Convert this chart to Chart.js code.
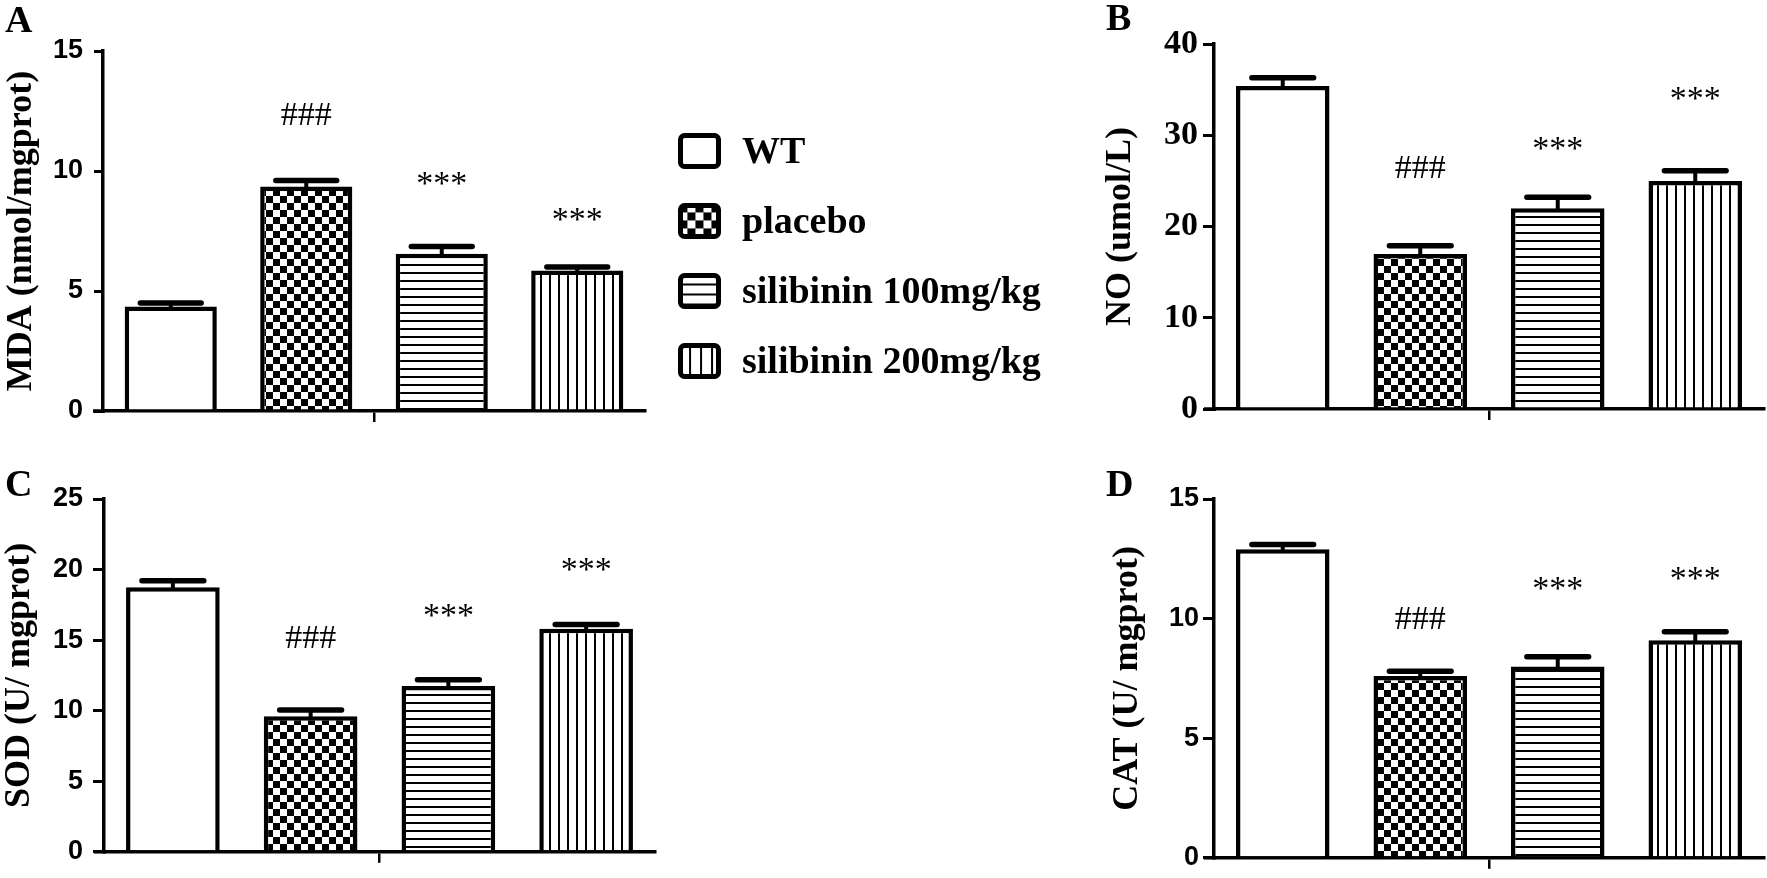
<!DOCTYPE html>
<html>
<head>
<meta charset="utf-8">
<title>Oxidative stress markers</title>
<script src="https://cdn.jsdelivr.net/npm/chart.js@4.4.1/dist/chart.umd.min.js"></script>
<style>
  html, body { margin: 0; padding: 0; background: #fff; }
  body { width: 1767px; height: 878px; position: relative; overflow: hidden; }
  canvas { position: absolute; display: block; }
</style>
</head>
<body>
<canvas id="chartA"></canvas>
<canvas id="chartB"></canvas>
<canvas id="chartC"></canvas>
<canvas id="chartD"></canvas>
<script>
// groups (one bar each) and significance marks
const groups = ['WT', 'placebo', 'silibinin 100mg/kg', 'silibinin 200mg/kg'];
const marks = ['', '###', '***', '***'];

// A - MDA
const mdaMean = [4.35, 9.35, 6.55, 5.85];
const mdaSem = [0.15, 0.25, 0.3, 0.15];
const mdaMarkAt = [null, 12.3, 9.4, 7.9];
const mdaTicks = [0, 5, 10, 15];

// B - NO
const noMean = [35.4, 17.0, 22.0, 25.0];
const noSem = [0.9, 0.9, 1.2, 1.1];
const noMarkAt = [null, 26.3, 28.4, 33.9];
const noTicks = [0, 10, 20, 30, 40];

// C - SOD
const sodMean = [18.75, 9.6, 11.75, 15.8];
const sodSem = [0.45, 0.45, 0.45, 0.3];
const sodMarkAt = [null, 15.1, 16.6, 19.9];
const sodTicks = [0, 5, 10, 15, 20, 25];

// D - CAT
const catMean = [12.9, 7.6, 8.0, 9.1];
const catSem = [0.2, 0.2, 0.4, 0.35];
const catMarkAt = [null, 9.95, 11.2, 11.6];
const catTicks = [0, 5, 10, 15];

const SANS = '"Liberation Sans", Arial, sans-serif';
const SERIF = '"Liberation Serif", "Times New Roman", serif';
const TITLE_SIZE = 36;

// fills: white, checkerboard, horizontal lines, vertical lines
function makeFill(kind, size) {
    if (kind === 'plain') return '#ffffff';
    const c = document.createElement('canvas');
    const g = c.getContext('2d');
    if (kind === 'checker') {
        c.width = c.height = size * 2;
        g.fillStyle = '#fff';
        g.fillRect(0, 0, c.width, c.height);
        g.fillStyle = '#000';
        g.fillRect(0, 0, size, size);
        g.fillRect(size, size, size, size);
    } else if (kind === 'hlines') {
        c.width = 4; c.height = size;
        g.fillStyle = '#fff';
        g.fillRect(0, 0, 4, size);
        g.fillStyle = '#000';
        g.fillRect(0, 0, 4, 2);
    } else {
        c.width = size; c.height = 4;
        g.fillStyle = '#fff';
        g.fillRect(0, 0, size, 4);
        g.fillStyle = '#000';
        g.fillRect(0, 0, 2, 4);
    }
    return g.createPattern(c, 'repeat');
}

const fillKinds = ['plain', 'checker', 'hlines', 'vlines'];
const barFills = [makeFill('plain'), makeFill('checker', 7), makeFill('hlines', 8), makeFill('vlines', 9)];
const legendSizes = [0, 8, 10, 11];

const panels = [
    {
        id: 'chartA', letter: 'A', title: 'MDA (nmol/mgprot)',
        mean: mdaMean, sem: mdaSem, markAt: mdaMarkAt, ticks: mdaTicks,
        canvas: { left: 0, top: 0, width: 1080, height: 440 },
        area: { left: 103, right: 645, top: 51, bottom: 411 },
        tickFont: { family: SANS, size: 27, weight: 'bold' }, tickLen: 9, tickPad: 11,
        titleCenter: 22, letterAt: [5, 32], legend: true
    },
    {
        id: 'chartB', letter: 'B', title: 'NO (umol/L)',
        mean: noMean, sem: noSem, markAt: noMarkAt, ticks: noTicks,
        canvas: { left: 1090, top: 0, width: 677, height: 440 },
        area: { left: 1214, right: 1764, top: 44, bottom: 409 },
        tickFont: { family: SERIF, size: 34, weight: 'bold' }, tickLen: 11, tickPad: 5,
        titleCenter: 1121, letterAt: [16, 30], legend: false
    },
    {
        id: 'chartC', letter: 'C', title: 'SOD (U/ mgprot)',
        mean: sodMean, sem: sodSem, markAt: sodMarkAt, ticks: sodTicks,
        canvas: { left: 0, top: 438, width: 680, height: 440 },
        area: { left: 104, right: 655, top: 499, bottom: 864 },
        tickFont: { family: SANS, size: 27, weight: 'bold' }, tickLen: 11, tickPad: 10,
        titleCenter: 20, letterAt: [5, 58], legend: false
    },
    {
        id: 'chartD', letter: 'D', title: 'CAT (U/ mgprot)',
        mean: catMean, sem: catSem, markAt: catMarkAt, ticks: catTicks,
        canvas: { left: 1090, top: 438, width: 677, height: 440 },
        area: { left: 1214, right: 1764, top: 499, bottom: 864 },
        tickFont: { family: SANS, size: 27, weight: 'bold' }, tickLen: 11, tickPad: 4,
        titleCenter: 1128, letterAt: [16, 58], legend: false
    }
];

const legendBox = { left: 678, firstTop: 133, step: 70, width: 43, height: 36, textLeft: 742 };

// error bars (SEM, upward only)
function errorBarPlugin(p) {
    return {
        id: 'errorBars',
        afterDatasetsDraw(chart) {
            const ctx = chart.ctx;
            const y = chart.scales.y;
            chart.data.datasets.forEach((ds, i) => {
                const bar = chart.getDatasetMeta(i).data[0];
                const top = y.getPixelForValue(ds.data[0]);
                const tip = y.getPixelForValue(ds.data[0] + p.sem[i]);
                const half = bar.width * 0.33;
                ctx.save();
                ctx.strokeStyle = '#000';
                ctx.lineCap = 'round';
                ctx.lineWidth = 4;
                ctx.beginPath();
                ctx.moveTo(bar.x, top);
                ctx.lineTo(bar.x, tip);
                ctx.stroke();
                ctx.lineWidth = 5.5;
                ctx.beginPath();
                ctx.moveTo(bar.x - half, tip);
                ctx.lineTo(bar.x + half, tip);
                ctx.stroke();
                ctx.restore();
            });
        }
    };
}

// ### / *** above the bars, axis stub, panel letter
function decorPlugin(p) {
    return {
        id: 'decor',
        afterDraw(chart) {
            const ctx = chart.ctx;
            const y = chart.scales.y;
            const area = chart.chartArea;
            ctx.save();
            ctx.fillStyle = '#000';
            ctx.textAlign = 'center';
            ctx.textBaseline = 'middle';
            ctx.font = '34px ' + SERIF;
            chart.data.datasets.forEach((ds, i) => {
                if (!marks[i] || p.markAt[i] == null) return;
                const bar = chart.getDatasetMeta(i).data[0];
                ctx.fillText(marks[i], bar.x, y.getPixelForValue(p.markAt[i]));
            });

            ctx.strokeStyle = '#000';
            ctx.lineWidth = 3.5;
            ctx.beginPath();
            ctx.moveTo(area.left - 10, area.bottom);
            ctx.lineTo(area.left + 2, area.bottom);
            ctx.stroke();

            ctx.textAlign = 'left';
            ctx.textBaseline = 'alphabetic';
            ctx.font = 'bold 38px ' + SERIF;
            ctx.fillText(p.letter, p.letterAt[0], p.letterAt[1]);
            ctx.restore();
        }
    };
}

// group legend, drawn beside panel A
function legendPlugin(p) {
    return {
        id: 'groupLegend',
        afterDraw(chart) {
            if (!p.legend) return;
            const ctx = chart.ctx;
            ctx.save();
            chart.data.datasets.forEach((ds, i) => {
                const x = legendBox.left - p.canvas.left;
                const top = legendBox.firstTop + legendBox.step * i - p.canvas.top;
                const fill = makeFill(fillKinds[i], legendSizes[i]);
                if (typeof fill !== 'string') {
                    fill.setTransform(new DOMMatrix().translate(x + 5 + legendSizes[i] * 0.55, top + 5 + legendSizes[i] * 0.55));
                }
                ctx.beginPath();
                ctx.roundRect(x + 2.5, top + 2.5, legendBox.width - 5, legendBox.height - 5, 4);
                ctx.fillStyle = fill;
                ctx.fill();
                ctx.lineWidth = 5;
                ctx.strokeStyle = '#000';
                ctx.stroke();

                ctx.fillStyle = '#000';
                ctx.font = 'bold 38px ' + SERIF;
                ctx.textAlign = 'left';
                ctx.textBaseline = 'middle';
                ctx.fillText(ds.label, legendBox.textLeft - p.canvas.left, top + legendBox.height / 2 + 2);
            });
            ctx.restore();
        }
    };
}

function buildPanel(p) {
    const canvas = document.getElementById(p.id);
    canvas.width = p.canvas.width;
    canvas.height = p.canvas.height;
    canvas.style.left = p.canvas.left + 'px';
    canvas.style.top = p.canvas.top + 'px';

    const yWidth = p.area.left - p.canvas.left;
    const xHeight = p.canvas.height - (p.area.bottom - p.canvas.top);

    return new Chart(canvas, {
        type: 'bar',
        data: {
            labels: [''],
            datasets: groups.map((g, i) => ({
                label: g,
                data: [p.mean[i]],
                backgroundColor: barFills[i],
                borderColor: '#000',
                borderWidth: 4.5,
                categoryPercentage: 1.0,
                barPercentage: 0.68
            }))
        },
        options: {
            responsive: false,
            animation: false,
            devicePixelRatio: 1,
            events: [],
            layout: {
                padding: {
                    left: 0,
                    top: p.area.top - p.canvas.top,
                    right: p.canvas.width - (p.area.right - p.canvas.left),
                    bottom: 0
                }
            },
            plugins: {
                legend: { display: false },
                tooltip: { enabled: false }
            },
            scales: {
                x: {
                    grid: {
                        display: true, drawOnChartArea: false, offset: false,
                        tickLength: 11, color: '#000', lineWidth: 2.5
                    },
                    border: { display: true, color: '#000', width: 3.5 },
                    ticks: { display: true },
                    afterFit: s => { s.height = xHeight; }
                },
                y: {
                    min: p.ticks[0],
                    max: p.ticks[p.ticks.length - 1],
                    afterBuildTicks: s => { s.ticks = p.ticks.map(v => ({ value: v })); },
                    ticks: { font: p.tickFont, color: '#000', padding: p.tickPad },
                    grid: {
                        drawOnChartArea: false, drawTicks: true,
                        tickLength: p.tickLen, color: '#000', lineWidth: 3
                    },
                    border: { display: true, color: '#000', width: 3.5 },
                    title: {
                        display: true,
                        text: p.title,
                        color: '#000',
                        font: { family: SERIF, size: TITLE_SIZE, weight: 'bold', lineHeight: 1 },
                        padding: { top: p.titleCenter - p.canvas.left - TITLE_SIZE / 2, bottom: 0 }
                    },
                    afterFit: s => { s.width = yWidth; }
                }
            }
        },
        plugins: [errorBarPlugin(p), decorPlugin(p), legendPlugin(p)]
    });
}

const charts = panels.map(buildPanel);
</script>
</body>
</html>
